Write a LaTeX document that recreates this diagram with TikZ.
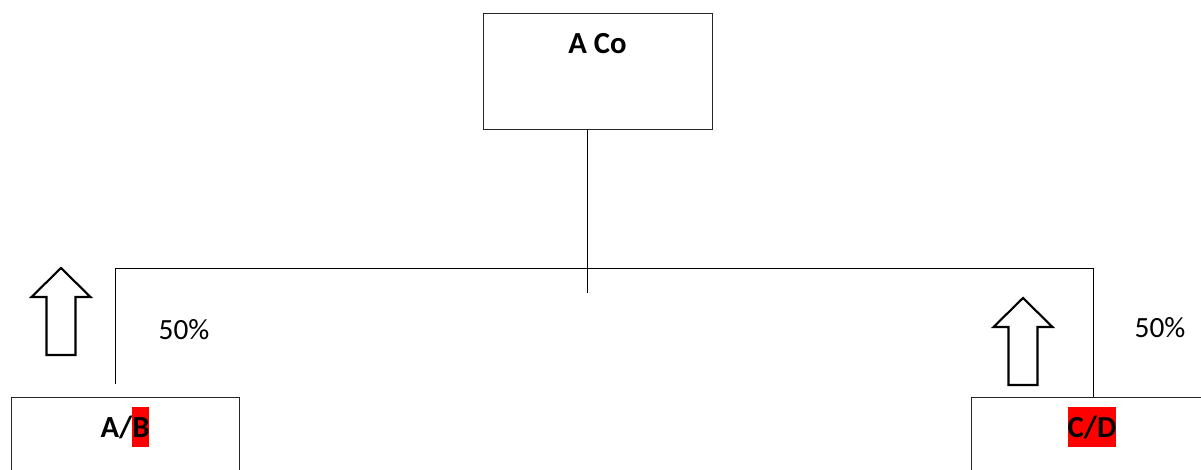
\documentclass[tikz,border=0pt]{standalone}
\usepackage{fontspec}
\setmainfont{Carlito}
\usepackage{tikz}
\usetikzlibrary{positioning}

\begin{document}
\begin{tikzpicture}[x=0.75pt,y=-0.75pt,draw=black!85]
    \tikzstyle{company}=[draw,line width=0.75pt,minimum width=171.75pt,minimum height=87pt,inner sep=0pt]
    \tikzstyle{title}=[inner sep=0pt,font=\fontsize{23}{28}\selectfont\bfseries,text height=23.25pt,text depth=6.75pt]
    \tikzstyle{share}=[anchor=base,inner sep=0pt,font=\fontsize{22}{26}\selectfont]
    \tikzstyle{link}=[line width=0.75pt,black]
    \tikzstyle{up arrow}=[line width=1.6pt,black,line join=miter,fill=white]

    \newcommand{\redmark}[1]{{\setlength{\fboxsep}{0pt}\colorbox{red}{\rule[-6.75pt]{0pt}{30pt}#1}}}

    \useasboundingbox (0,0) rectangle (1201,469);

    % Draw the company boxes
    \node[company] (aco) at (597.5,71) {};
    \node[company,minimum width=171pt,minimum height=75pt] (ab) at (125,447) {};
    \node[company,minimum width=181.5pt,minimum height=75pt] (cd) at (1092,447) {};

    % Names at the top of each box
    \node[title,below=7.5pt of aco.north] (aco-name) {A Co};
    \node[title,below=7.5pt of ab.north] (ab-name) {A/\redmark{B}};
    \node[title,below=7.5pt of cd.north] (cd-name) {\redmark{C/D}};

    % Connect the boxes
    \coordinate (stem end) at (587,293);
    \coordinate (ab leg) at (115,384);
    \coordinate (cd leg) at (1093,268);
    \draw[link] (aco.south -| stem end) -- (stem end);
    \draw[link] (ab leg) |- (cd leg) -- (cd leg |- cd.north);

    % Draw the block arrows
    \foreach \x / \y in {61/268,1023/298}
        \draw[up arrow] (\x,\y) -- ++(29.5,29) -- ++(-15,0) -- ++(0,58)
            -- ++(-29,0) -- ++(0,-58) -- ++(-15,0) -- cycle;

    % Annotate the shares
    \node[share] (ab-share) at (184,339) {50\%};
    \node[share] (cd-share) at (1160,337) {50\%};
\end{tikzpicture}
\end{document}
